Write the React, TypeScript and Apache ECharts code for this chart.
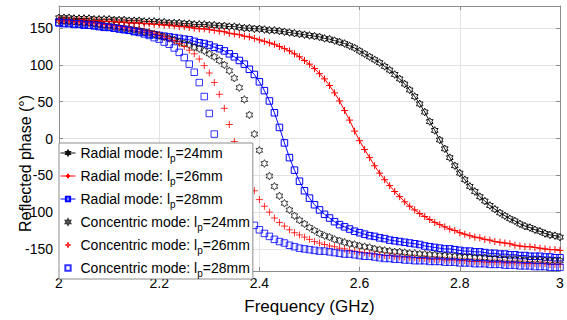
import React, { useEffect, useRef } from 'react';
import * as echarts from 'echarts';

const freq = [
  2.00, 2.01, 2.02, 2.03, 2.04, 2.05, 2.06, 2.07, 2.08, 2.09,
  2.10, 2.11, 2.12, 2.13, 2.14, 2.15, 2.16, 2.17, 2.18, 2.19,
  2.20, 2.21, 2.22, 2.23, 2.24, 2.25, 2.26, 2.27, 2.28, 2.29,
  2.30, 2.31, 2.32, 2.33, 2.34, 2.35, 2.36, 2.37, 2.38, 2.39,
  2.40, 2.41, 2.42, 2.43, 2.44, 2.45, 2.46, 2.47, 2.48, 2.49,
  2.50, 2.51, 2.52, 2.53, 2.54, 2.55, 2.56, 2.57, 2.58, 2.59,
  2.60, 2.61, 2.62, 2.63, 2.64, 2.65, 2.66, 2.67, 2.68, 2.69,
  2.70, 2.71, 2.72, 2.73, 2.74, 2.75, 2.76, 2.77, 2.78, 2.79,
  2.80, 2.81, 2.82, 2.83, 2.84, 2.85, 2.86, 2.87, 2.88, 2.89,
  2.90, 2.91, 2.92, 2.93, 2.94, 2.95, 2.96, 2.97, 2.98, 2.99,
  3.00,
];

const radial24 = [
  164, 164, 164, 163, 163, 163, 163, 162, 162, 162,
  162, 161, 161, 161, 160, 160, 160, 159, 159, 159,
  158, 158, 157, 157, 157, 156, 156, 155, 155, 155,
  154, 154, 153, 153, 152, 152, 151, 150, 150, 149,
  149, 148, 147, 147, 146, 145, 144, 143, 142, 141,
  140, 139, 138, 136, 135, 133, 131, 129, 126, 123,
  119, 115, 111, 107, 103, 98, 93, 87, 81, 74,
  66, 57, 47, 36, 23, 11, -2, -14, -26, -37,
  -47, -56, -65, -72, -79, -85, -91, -96, -101, -105,
  -109, -112, -116, -119, -121, -124, -126, -129, -131, -132,
  -134,
];

const radial26 = [
  162, 162, 161, 161, 161, 161, 160, 160, 160, 159,
  159, 159, 158, 158, 157, 157, 157, 156, 156, 155,
  155, 154, 154, 153, 152, 152, 151, 150, 149, 149,
  148, 147, 146, 145, 143, 142, 141, 139, 138, 136,
  134, 132, 130, 128, 125, 122, 119, 115, 111, 106,
  101, 95, 88, 81, 72, 62, 51, 38, 25, 10,
  -3, -15, -26, -37, -47, -56, -64, -72, -79, -86,
  -92, -97, -102, -106, -110, -114, -117, -120, -123, -125,
  -128, -130, -132, -134, -135, -137, -138, -140, -141, -142,
  -143, -145, -146, -147, -147, -148, -149, -150, -151, -151,
  -152,
];

const radial28 = [
  157, 156, 156, 155, 155, 154, 154, 153, 152, 151,
  151, 150, 149, 148, 147, 146, 145, 144, 142, 141,
  140, 139, 138, 137, 136, 135, 134, 132, 130, 129,
  127, 124, 122, 119, 115, 111, 106, 101, 94, 87,
  77, 65, 51, 35, 15, -6, -26, -43, -58, -71,
  -81, -90, -97, -103, -108, -113, -117, -120, -123, -126,
  -128, -130, -132, -133, -135, -136, -138, -139, -140, -141,
  -142, -143, -144, -146, -147, -148, -149, -150, -150, -151,
  -152, -153, -153, -154, -154, -155, -156, -156, -157, -157,
  -158, -158, -159, -159, -160, -160, -160, -161, -161, -162,
  -162,
];

const concentric24 = [
  160, 160, 159, 159, 158, 157, 157, 156, 155, 154,
  153, 152, 151, 150, 149, 148, 147, 145, 144, 142,
  140, 138, 136, 134, 131, 129, 127, 124, 122, 119,
  115, 111, 106, 100, 92, 82, 69, 53, 32, 6,
  -16, -34, -51, -65, -78, -88, -97, -105, -111, -116,
  -121, -125, -129, -132, -134, -137, -139, -141, -143, -144,
  -146, -147, -148, -150, -151, -152, -153, -154, -154, -155,
  -156, -156, -157, -157, -158, -158, -159, -159, -160, -160,
  -161, -161, -161, -162, -162, -162, -163, -163, -163, -164,
  -164, -164, -164, -165, -165, -165, -165, -166, -166, -166,
  -166,
];

const concentric26 = [
  160, 160, 160, 159, 159, 158, 157, 157, 156, 155,
  154, 153, 152, 151, 150, 149, 148, 146, 145, 143,
  141, 138, 136, 133, 129, 125, 120, 115, 108, 99,
  89, 76, 60, 41, 19, -4, -24, -42, -58, -71,
  -83, -92, -100, -108, -114, -119, -124, -128, -131, -134,
  -137, -140, -142, -144, -146, -147, -149, -150, -152, -153,
  -154, -155, -156, -157, -158, -159, -159, -160, -161, -161,
  -162, -162, -163, -163, -164, -164, -164, -165, -165, -165,
  -166, -166, -167, -167, -167, -168, -168, -168, -168, -169,
  -169, -169, -169, -170, -170, -170, -170, -170, -171, -171,
  -171,
];

const concentric28 = [
  158, 157, 157, 156, 156, 155, 154, 154, 153, 152,
  151, 150, 149, 148, 147, 145, 144, 142, 140, 137,
  135, 131, 128, 123, 117, 110, 101, 90, 76, 57,
  34, 6, -19, -42, -62, -78, -91, -102, -111, -118,
  -124, -129, -133, -137, -140, -142, -145, -147, -149, -150,
  -151, -152, -153, -153, -154, -155, -156, -157, -157, -158,
  -159, -160, -160, -161, -162, -163, -163, -164, -164, -165,
  -165, -166, -166, -166, -167, -167, -167, -168, -168, -168,
  -169, -169, -169, -170, -170, -170, -171, -171, -171, -172,
  -172, -172, -173, -173, -173, -174, -174, -174, -175, -175,
  -175,
];

const yTickValues = [-150, -100, -50, 0, 50, 100, 150];

const seriesNames = [
  'Radial mode: 24',
  'Radial mode: 26',
  'Radial mode: 28',
  'Concentric mode: 24',
  'Concentric mode: 26',
  'Concentric mode: 28',
];

// Marker shapes with an empty margin (2/3 of the symbol box is drawn), so
// legend icons come out small like the reference.
const HEX = 'path://M-5,-5M25,25M10,0L12.89,5L18.66,5L15.77,10L18.66,15L12.89,15L10,20L7.11,15L1.34,15L4.23,10L1.34,5L7.11,5Z';
const PLUS = 'path://M-2.5,-2.5M12.5,12.5M5,0L5,10M0,5L10,5';
const SQUARE = 'path://M-2.5,-2.5M12.5,12.5M0,0L10,0L10,10L0,10Z';
const FONT = 'Liberation Sans, Arial, sans-serif';

const BLACK = '#111111';
const RED = '#ff0000';
const BLUE = '#0000ff';
const AXIS = '#8c8c8c';

function pairs(vals: number[]) {
  return freq.map((f, i) => [f, vals[i]]);
}

export default function App() {
  const ref = useRef<HTMLDivElement>(null);

  useEffect(() => {
    if (!ref.current) return;
    const chart = echarts.init(ref.current, undefined, { renderer: 'svg' });

    const mk = (name: string, vals: number[], color: string, symbol: string, size: number, isLine: boolean) => ({
      name,
      type: isLine ? 'line' : 'scatter',
      data: pairs(vals),
      symbol,
      symbolSize: size,
      showSymbol: true,
      showAllSymbol: true,
      lineStyle: { color, width: 1 },
      itemStyle: { color: 'rgba(0,0,0,0)', borderColor: color, borderWidth: 1 },
      emphasis: { disabled: true },
      silent: true,
      z: 2,
    });

    const option: any = {
      animation: false,
      backgroundColor: '#ffffff',
      grid: { left: 59, right: 7, top: 6, bottom: 36, containLabel: false },
      xAxis: [
        {
          type: 'value',
          min: 2,
          max: 3,
          interval: 0.2,
          name: 'Frequency (GHz)',
          nameLocation: 'middle',
          nameGap: 27,
          nameMoveOverlap: false,
          nameTextStyle: { fontFamily: FONT, fontSize: 17, color: '#000' },
          axisLine: { show: true, onZero: false, lineStyle: { color: AXIS, width: 1 } },
          axisTick: { show: true, inside: true, length: 4, lineStyle: { color: AXIS } },
          axisLabel: { fontFamily: FONT, fontSize: 14, color: '#000', margin: 5 },
          splitLine: { show: true, lineStyle: { color: '#e3e3e3', width: 1 } },
        },
        {
          type: 'value',
          position: 'top',
          min: 2,
          max: 3,
          interval: 0.2,
          axisLine: { show: true, onZero: false, lineStyle: { color: AXIS, width: 1 } },
          axisTick: { show: true, inside: true, length: 4, lineStyle: { color: AXIS } },
          axisLabel: { show: false },
          splitLine: { show: false },
        },
      ],
      yAxis: [
        {
          type: 'value',
          min: -180,
          max: 180,
          name: 'Reflected phase (°)',
          nameLocation: 'middle',
          nameGap: 26,
          nameMoveOverlap: false,
          nameTextStyle: { fontFamily: FONT, fontSize: 16, color: '#000', padding: [0, 50, 0, 0] },
          axisLine: { show: true, onZero: false, lineStyle: { color: AXIS, width: 1 } },
          axisTick: { show: true, inside: true, length: 4, customValues: yTickValues, lineStyle: { color: AXIS } },
          axisLabel: { fontFamily: FONT, fontSize: 14, color: '#000', margin: 6, customValues: yTickValues },
          splitLine: { show: true, lineStyle: { color: '#e3e3e3', width: 1 } },
        },
        {
          type: 'value',
          position: 'right',
          min: -180,
          max: 180,
          axisLine: { show: true, onZero: false, lineStyle: { color: AXIS, width: 1 } },
          axisTick: { show: true, inside: true, length: 4, customValues: yTickValues, lineStyle: { color: AXIS } },
          axisLabel: { show: false, customValues: yTickValues },
          splitLine: { show: false },
        },
      ],
      legend: {
        data: seriesNames,
        orient: 'vertical',
        left: 59,
        top: 143,
        backgroundColor: '#ffffff',
        borderColor: AXIS,
        borderWidth: 1,
        borderRadius: 0,
        padding: [3, 3, 1, 1],
        itemWidth: 15,
        itemHeight: 8,
        itemGap: 6,
        selectedMode: false,
        lineStyle: { width: 1 },
        textStyle: {
          fontFamily: FONT,
          fontSize: 14,
          color: '#000',
          rich: {
            a: { fontFamily: FONT, fontSize: 14, color: '#000' },
            s: { fontFamily: FONT, fontSize: 10, color: '#000', padding: [10, 0, 0, 0] },
          },
        },
        formatter: (name: string) => {
          const idx = name.lastIndexOf(' ');
          const prefix = name.slice(0, idx);
          const mm = name.slice(idx + 1);
          return `{a|${prefix} l}{s|p}{a|=${mm}mm}`;
        },
        z: 10,
      },
      series: [
        mk(seriesNames[0], radial24, BLACK, HEX, 11.5, true),
        mk(seriesNames[1], radial26, RED, PLUS, 10.5, true),
        mk(seriesNames[2], radial28, BLUE, SQUARE, 9.75, true),
        mk(seriesNames[3], concentric24, BLACK, HEX, 11.5, false),
        mk(seriesNames[4], concentric26, RED, PLUS, 10.5, false),
        mk(seriesNames[5], concentric28, BLUE, SQUARE, 9.75, false),
      ],
    };

    chart.setOption(option);
    return () => {
      chart.dispose();
    };
  }, []);

  return (
    <div
      ref={ref}
      style={{ position: 'fixed', left: 0, top: 0, width: 567, height: 320, background: '#fff' }}
    />
  );
}
